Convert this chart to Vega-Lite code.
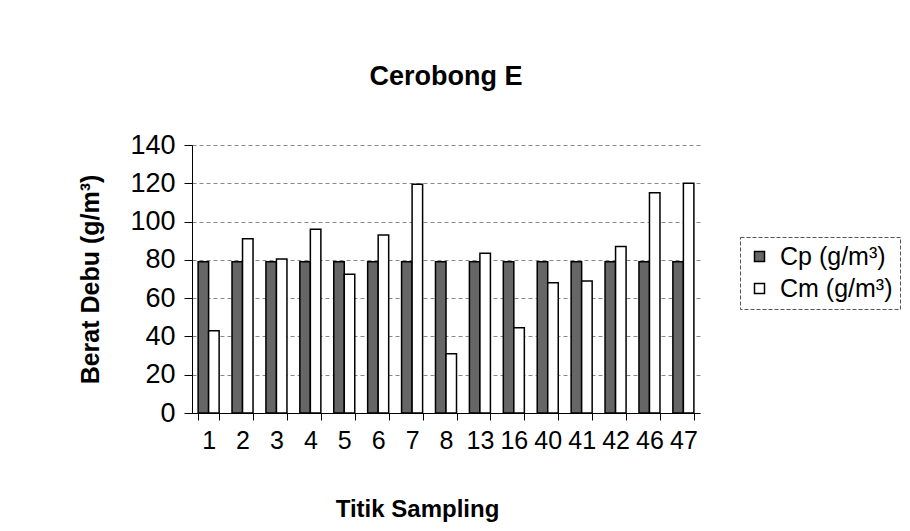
{
  "$schema": "https://vega.github.io/schema/vega-lite/v6.json",
  "autosize": "none",
  "width": 508,
  "height": 268,
  "padding": {"left": 192, "top": 145, "right": 210, "bottom": 118},
  "background": "#ffffff",
  "config": {
    "font": "Liberation Sans",
    "view": {"stroke": null},
    "axis": {"labelFont": "Liberation Sans", "titleFont": "Liberation Sans", "labelColor": "#000", "titleColor": "#000", "domainColor": "#000", "tickColor": "#000"},
    "legend": {"strokeColor": "#555", "strokeDash": [4, 2]}
  },
  "title": {"text": "Cerobong E", "fontSize": 27, "fontWeight": "bold", "color": "#000", "offset": 40, "anchor": "middle"},
  "data": {
    "values": [
      {"titik": "1", "seri": "Cp (g/m³)", "nilai": 79},
      {"titik": "1", "seri": "Cm (g/m³)", "nilai": 43},
      {"titik": "2", "seri": "Cp (g/m³)", "nilai": 79},
      {"titik": "2", "seri": "Cm (g/m³)", "nilai": 91},
      {"titik": "3", "seri": "Cp (g/m³)", "nilai": 79},
      {"titik": "3", "seri": "Cm (g/m³)", "nilai": 80.5},
      {"titik": "4", "seri": "Cp (g/m³)", "nilai": 79},
      {"titik": "4", "seri": "Cm (g/m³)", "nilai": 96},
      {"titik": "5", "seri": "Cp (g/m³)", "nilai": 79},
      {"titik": "5", "seri": "Cm (g/m³)", "nilai": 72.5},
      {"titik": "6", "seri": "Cp (g/m³)", "nilai": 79},
      {"titik": "6", "seri": "Cm (g/m³)", "nilai": 93},
      {"titik": "7", "seri": "Cp (g/m³)", "nilai": 79},
      {"titik": "7", "seri": "Cm (g/m³)", "nilai": 119.5},
      {"titik": "8", "seri": "Cp (g/m³)", "nilai": 79},
      {"titik": "8", "seri": "Cm (g/m³)", "nilai": 31},
      {"titik": "13", "seri": "Cp (g/m³)", "nilai": 79},
      {"titik": "13", "seri": "Cm (g/m³)", "nilai": 83.5},
      {"titik": "16", "seri": "Cp (g/m³)", "nilai": 79},
      {"titik": "16", "seri": "Cm (g/m³)", "nilai": 44.5},
      {"titik": "40", "seri": "Cp (g/m³)", "nilai": 79},
      {"titik": "40", "seri": "Cm (g/m³)", "nilai": 68},
      {"titik": "41", "seri": "Cp (g/m³)", "nilai": 79},
      {"titik": "41", "seri": "Cm (g/m³)", "nilai": 69},
      {"titik": "42", "seri": "Cp (g/m³)", "nilai": 79},
      {"titik": "42", "seri": "Cm (g/m³)", "nilai": 87},
      {"titik": "46", "seri": "Cp (g/m³)", "nilai": 79},
      {"titik": "46", "seri": "Cm (g/m³)", "nilai": 115},
      {"titik": "47", "seri": "Cp (g/m³)", "nilai": 79},
      {"titik": "47", "seri": "Cm (g/m³)", "nilai": 120}
    ]
  },
  "mark": {"type": "bar", "stroke": "#000", "strokeWidth": 1.5},
  "encoding": {
    "x": {
      "field": "titik", "type": "ordinal",
      "sort": ["1","2","3","4","5","6","7","8","13","16","40","41","42","46","47"],
      "scale": {"paddingInner": 0.38, "paddingOuter": 0.18},
      "axis": {"title": "Titik Sampling", "titleFontSize": 24, "titleFontWeight": "bold", "titlePadding": 44, "titleX": 225, "labelFontSize": 25, "labelAngle": 0, "labelPadding": 8, "tickBand": "extent", "tickSize": 7, "domainWidth": 1}
    },
    "xOffset": {"field": "seri", "type": "nominal", "sort": ["Cp (g/m³)", "Cm (g/m³)"], "scale": {"paddingInner": 0}},
    "y": {
      "field": "nilai", "type": "quantitative",
      "scale": {"domain": [0, 140]},
      "axis": {"title": "Berat Debu (g/m³)", "titleFontSize": 25, "titleFontWeight": "bold", "titlePadding": 26, "labelFontSize": 27, "values": [0,20,40,60,80,100,120,140], "labelPadding": 9, "tickSize": 8, "grid": true, "gridColor": "#888", "gridDash": [4, 3], "gridWidth": 1}
    },
    "fill": {
      "field": "seri", "type": "nominal", "sort": ["Cp (g/m³)", "Cm (g/m³)"],
      "scale": {"domain": ["Cp (g/m³)", "Cm (g/m³)"], "range": ["#666666", "#ffffff"]},
      "legend": {"title": null, "orient": "none", "legendX": 548, "legendY": 92, "labelFontSize": 25, "labelColor": "#000", "symbolType": "square", "symbolSize": 100, "symbolStrokeColor": "#000", "symbolStrokeWidth": 1.5, "padding": 7, "rowPadding": 6, "labelOffset": 8, "labelFont": "Liberation Sans"}
    }
  }
}
